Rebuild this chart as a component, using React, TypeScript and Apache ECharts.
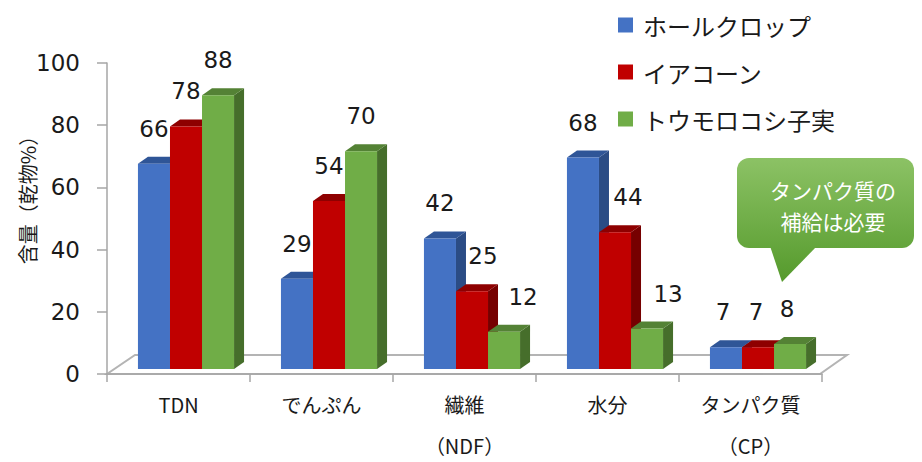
import React, { useEffect, useRef } from "react";
import * as echarts from "echarts";

const categories = ["TDN", "でんぷん", "繊維\n（NDF）", "水分", "タンパク質\n（CP）"];
const seriesNames = ["ホールクロップ", "イアコーン", "トウモロコシ子実"];
const wholeCrop = [66, 29, 42, 68, 7];
const earCorn = [78, 54, 25, 44, 7];
const grain = [88, 70, 12, 13, 8];
const yTicks = [0, 20, 40, 60, 80, 100];
const calloutLines = ["タンパク質の", "補給は必要"];

// styling (not data)
const frontColors = ["#4472C4", "#C00000", "#70AD47"];
const topColors = ["#2F5597", "#8E0000", "#548235"];
const sideColors = ["#2B4C85", "#760000", "#466E2B"];
const labelNudgeX = [
  [0, 0, 0, 0, -3],
  [0, 0, 11, 13, -2],
  [0, 0, 19, 21, -3],
];

const NUM_FONT = '"DejaVu Sans", Verdana, sans-serif';
const JP_FONT = '"Noto Sans CJK JP", "Noto Sans", sans-serif';

export default function App() {
  const ref = useRef<HTMLDivElement>(null);
  useEffect(() => {
    if (!ref.current) return;
    const chart = echarts.init(ref.current, null, { renderer: "svg" });
    const allValues = [wholeCrop, earCorn, grain];

    const makeSeries = (si: number) => ({
      type: "custom",
      name: seriesNames[si],
      itemStyle: { color: frontColors[si] },
      data: categories.map((_, i) => [i, allValues[si][i]]),
      encode: { x: 0, y: 1 },
      renderItem: (params: any, api: any) => {
        const idx = api.value(0);
        const val = api.value(1);
        const base = api.coord([idx, 0]);
        const top = api.coord([idx, val]);
        const band = api.size([1, 0])[0];
        const barW = band * 0.224;
        const dx = 10;
        const dy = -7;
        const shiftX = 7.5;
        const shiftY = -5;
        const x0 = base[0] + shiftX - (3 * barW) / 2 + si * barW;
        const yb = base[1] + shiftY;
        const yt = top[1] + shiftY;
        const x1 = x0 + barW;
        return {
          type: "group",
          children: [
            {
              type: "polygon",
              shape: { points: [[x1, yt], [x1 + dx, yt + dy], [x1 + dx, yb + dy], [x1, yb]] },
              style: { fill: sideColors[si] },
            },
            {
              type: "polygon",
              shape: { points: [[x0, yt], [x0 + dx, yt + dy], [x1 + dx, yt + dy], [x1, yt]] },
              style: { fill: topColors[si] },
            },
            {
              type: "rect",
              shape: { x: x0, y: yt, width: barW, height: yb - yt },
              style: { fill: frontColors[si] },
            },
            {
              type: "text",
              z2: 100,
              x: x0 + barW / 2 + labelNudgeX[si][idx],
              y: yt - 35,
              style: {
                text: String(val),
                fill: "#1a1a1a",
                font: `23px ${NUM_FONT}`,
                align: "center",
                verticalAlign: "middle",
                textAlign: "center",
                textVerticalAlign: "middle",
              },
            },
          ],
        };
      },
    });

    const bubbleGrad = new echarts.graphic.LinearGradient(
      0, 158, 0, 282,
      [
        { offset: 0, color: "#8CC265" },
        { offset: 1, color: "#559A2C" },
      ],
      true
    );

    chart.setOption({
      animation: false,
      backgroundColor: "#ffffff",
      grid: { left: 107, right: 100, top: 63, bottom: 88, containLabel: false },
      legend: {
        orient: "vertical",
        left: 618,
        top: 13,
        padding: 0,
        itemWidth: 15,
        itemHeight: 15,
        itemGap: 23,
        icon: "rect",
        data: seriesNames,
        textStyle: {
          fontFamily: JP_FONT,
          fontSize: 24,
          lineHeight: 24,
          color: "#1a1a1a",
          padding: [0, 0, 0, 5],
        },
      },
      xAxis: {
        type: "category",
        data: categories,
        boundaryGap: true,
        axisLine: { show: true, lineStyle: { color: "#A6A6A6", width: 1.5 } },
        axisTick: { show: true, alignWithLabel: false, length: 8, lineStyle: { color: "#A6A6A6", width: 1.5 } },
        axisLabel: {
          margin: 20,
          interval: 0,
          formatter: (v: string) => {
            const parts = v.split("\n");
            if (parts.length === 1) return `{a|${parts[0]}}`;
            return `{a|${parts[0]}}\n{g| }\n{a|${parts[1]}}`;
          },
          rich: {
            a: {
              fontFamily: JP_FONT,
              fontSize: 20,
              lineHeight: 21,
              color: "#1a1a1a",
            },
            g: { fontSize: 10, lineHeight: 20 },
          },
        },
        splitLine: { show: false },
      },
      yAxis: {
        type: "value",
        min: yTicks[0],
        max: yTicks[yTicks.length - 1],
        interval: 20,
        axisLine: { show: true, lineStyle: { color: "#A6A6A6", width: 1.5 } },
        axisTick: { show: true, length: 10, lineStyle: { color: "#A6A6A6", width: 1.5 } },
        axisLabel: {
          fontFamily: NUM_FONT,
          fontSize: 23,
          margin: 27,
          color: "#1a1a1a",
        },
        splitLine: { show: false },
      },
      graphic: [
        {
          type: "polygon",
          z: -1,
          shape: { points: [[107, 374], [820, 374], [847, 355], [135, 355]] },
          style: { fill: "#ffffff", stroke: "#B4B4B4", lineWidth: 2 },
        },
        {
          type: "text",
          x: 27,
          y: 195,
          rotation: Math.PI / 2,
          style: {
            text: "含量（乾物%）",
            font: `20px ${JP_FONT}`,
            fill: "#1a1a1a",
            align: "center",
            verticalAlign: "middle",
            textAlign: "center",
            textVerticalAlign: "middle",
          },
        },
        {
          type: "polygon",
          shape: { points: [[770, 246], [782, 282], [817, 246]] },
          style: { fill: bubbleGrad },
        },
        {
          type: "rect",
          shape: { x: 737, y: 158, width: 177, height: 90, r: 12 },
          style: { fill: bubbleGrad },
        },
        ...calloutLines.map((t, i) => ({
          type: "text",
          x: 833,
          y: 190 + i * 31,
          style: {
            text: t,
            font: `21px ${JP_FONT}`,
            fill: "#ffffff",
            align: "center",
            verticalAlign: "middle",
            textAlign: "center",
            textVerticalAlign: "middle",
          },
        })),
      ],
      series: [makeSeries(0), makeSeries(1), makeSeries(2)],
    });
    return () => chart.dispose();
  }, []);
  return (
    <div
      ref={ref}
      style={{ position: "absolute", left: 0, top: 0, width: 922, height: 462 }}
    />
  );
}
